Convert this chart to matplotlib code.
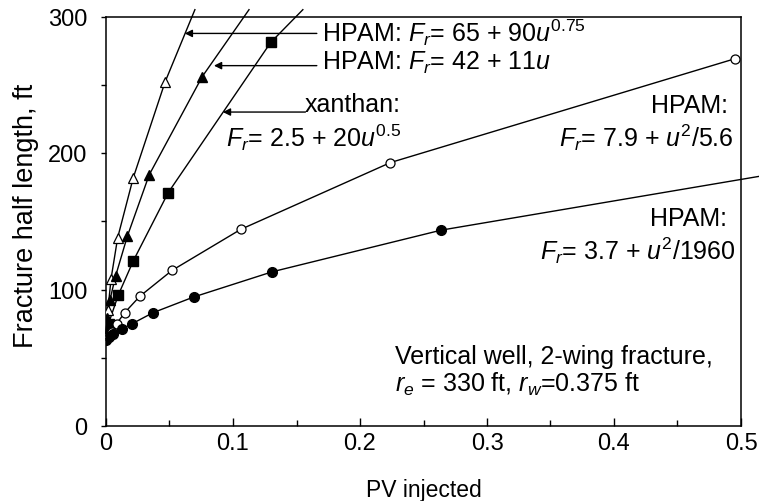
import matplotlib
matplotlib.use('Agg')
import matplotlib.pyplot as plt
from matplotlib.ticker import MultipleLocator, FuncFormatter

# ── Data ──────────────────────────────────────────────────────────────────

# HPAM: Fr = 65 + 90u^0.75  (open triangles)
tri_open_x = [0.0, 0.0015, 0.004, 0.0092, 0.0215, 0.0465]
tri_open_y = [68, 85, 108, 138, 182, 252]
tri_open_end = (0.070, 305)

# HPAM: Fr = 42 + 11u  (filled triangles)
tri_fill_x = [0.0, 0.001, 0.003, 0.0076, 0.0168, 0.034, 0.0758]
tri_fill_y = [68, 79, 92, 110, 139, 184, 256]
tri_fill_end = (0.1126, 305)

# xanthan: Fr = 2.5 + 20u^0.5  (filled squares)
sq_x = [0.0, 0.002, 0.0097, 0.0215, 0.049, 0.1297]
sq_y = [66, 75, 96, 121, 171, 281]
sq_end = (0.155, 305)

# HPAM: Fr = 7.9 + u^2/5.6  (open circles)
circ_open_x = [0.0, 0.002, 0.0045, 0.0084, 0.0147, 0.0266, 0.052, 0.106, 0.224, 0.495]
circ_open_y = [64, 66, 69, 75, 83, 95, 114, 144, 193, 269]

# HPAM: Fr = 3.7 + u^2/1960  (filled circles)
circ_fill_x = [0.0, 0.002, 0.0058, 0.0123, 0.0207, 0.037, 0.069, 0.131, 0.264]
circ_fill_y = [63, 65, 67.5, 71, 75, 83, 94.5, 113, 143.5]
circ_fill_end = (0.515, 183)

# ── Style ─────────────────────────────────────────────────────────────────

FONT = 'Liberation Sans'
plt.rcParams.update({
    'font.family': FONT,
    'mathtext.fontset': 'custom',
    'mathtext.rm': FONT,
    'mathtext.it': FONT + ':italic',
    'mathtext.bf': FONT + ':bold',
})

fig = plt.figure(figsize=(7.59, 5.02), dpi=100)
ax = fig.add_axes([106 / 759, 1 - 427 / 502, (741 - 106) / 759, (427 - 17.5) / 502])

LW = 1.0
line_kw = dict(color='black', lw=LW, clip_on=False, zorder=2)

ax.plot(tri_open_x + [tri_open_end[0]], tri_open_y + [tri_open_end[1]], **line_kw)
ax.plot(tri_open_x, tri_open_y, ls='none', marker='^', ms=7.5, mfc='white',
        mec='black', mew=0.9, zorder=3)

ax.plot(tri_fill_x + [tri_fill_end[0]], tri_fill_y + [tri_fill_end[1]], **line_kw)
ax.plot(tri_fill_x, tri_fill_y, ls='none', marker='^', ms=7.5, mfc='black',
        mec='black', zorder=3)

ax.plot(sq_x + [sq_end[0]], sq_y + [sq_end[1]], **line_kw)
ax.plot(sq_x, sq_y, ls='none', marker='s', ms=6.5, mfc='black', mec='black', zorder=3)

ax.plot(circ_open_x, circ_open_y, **line_kw)
ax.plot(circ_open_x, circ_open_y, ls='none', marker='o', ms=6.5, mfc='white',
        mec='black', mew=0.9, zorder=3)

ax.plot(circ_fill_x + [circ_fill_end[0]], circ_fill_y + [circ_fill_end[1]], **line_kw)
ax.plot(circ_fill_x, circ_fill_y, ls='none', marker='o', ms=7, mfc='black',
        mec='black', zorder=3)

# ── Axes ──────────────────────────────────────────────────────────────────

ax.set_xlim(0, 0.5)
ax.set_ylim(0, 300)
ax.xaxis.set_major_locator(MultipleLocator(0.1))
ax.xaxis.set_minor_locator(MultipleLocator(0.05))
ax.yaxis.set_major_locator(MultipleLocator(100))
ax.yaxis.set_minor_locator(MultipleLocator(50))
ax.xaxis.set_major_formatter(FuncFormatter(lambda v, p: '0' if abs(v) < 1e-9 else f'{v:.1f}'))
ax.yaxis.set_major_formatter(FuncFormatter(lambda v, p: f'{v:.0f}'))

ax.tick_params(axis='x', which='major', direction='in', length=6, width=1,
               labelsize=17, pad=4)
ax.tick_params(axis='x', which='minor', direction='in', length=4.5, width=1)
ax.tick_params(axis='y', which='both', direction='out', length=3.5, width=1,
               labelsize=17, pad=10)
for s in ax.spines.values():
    s.set_linewidth(1.1)

ax.set_xlabel('PV injected', fontsize=16.5)
ax.xaxis.set_label_coords(0.5, -0.127)
ax.set_ylabel('Fracture half length, ft', fontsize=19.5)
ax.yaxis.set_label_coords(-0.105, 0.515)

# ── Annotations ───────────────────────────────────────────────────────────

TS = 18
arrow_kw = dict(arrowstyle='-|>', color='black', lw=1.0, mutation_scale=11,
                shrinkA=0, shrinkB=0)

ax.text(0.170, 289, r'HPAM: $\mathit{F_r}$= 65 + 90$\mathit{u}^{\mathit{0.75}}$',
        fontsize=TS, ha='left', va='center')
ax.annotate('', xy=(0.062, 287.6), xytext=(0.166, 287.6), arrowprops=arrow_kw)

ax.text(0.170, 267, r'HPAM: $\mathit{F_r}$= 42 + 11$\mathit{u}$',
        fontsize=TS, ha='left', va='center')
ax.annotate('', xy=(0.085, 264), xytext=(0.166, 264), arrowprops=arrow_kw)

ax.text(0.232, 236, 'xanthan:', fontsize=TS, ha='right', va='center')
ax.text(0.232, 212, r'$\mathit{F_r}$= 2.5 + 20$\mathit{u}^{0.5}$',
        fontsize=TS, ha='right', va='center')
ax.annotate('', xy=(0.092, 230), xytext=(0.157, 230), arrowprops=arrow_kw)

ax.text(0.490, 235.5, 'HPAM:', fontsize=TS, ha='right', va='center')
ax.text(0.494, 212, r'$\mathit{F_r}$= 7.9 + $\mathit{u}^2$/5.6',
        fontsize=TS, ha='right', va='center')

ax.text(0.489, 152.5, 'HPAM:', fontsize=TS, ha='right', va='center')
ax.text(0.496, 129, r'$\mathit{F_r}$= 3.7 + $\mathit{u}^2$/1960',
        fontsize=TS, ha='right', va='center')

ax.text(0.2276, 51, 'Vertical well, 2-wing fracture,', fontsize=TS,
        ha='left', va='center')
ax.text(0.2276, 31, r'$\mathit{r_e}$ = 330 ft, $\mathit{r_w}$=0.375 ft', fontsize=TS,
        ha='left', va='center')

fig.savefig('out.png', dpi=100)
